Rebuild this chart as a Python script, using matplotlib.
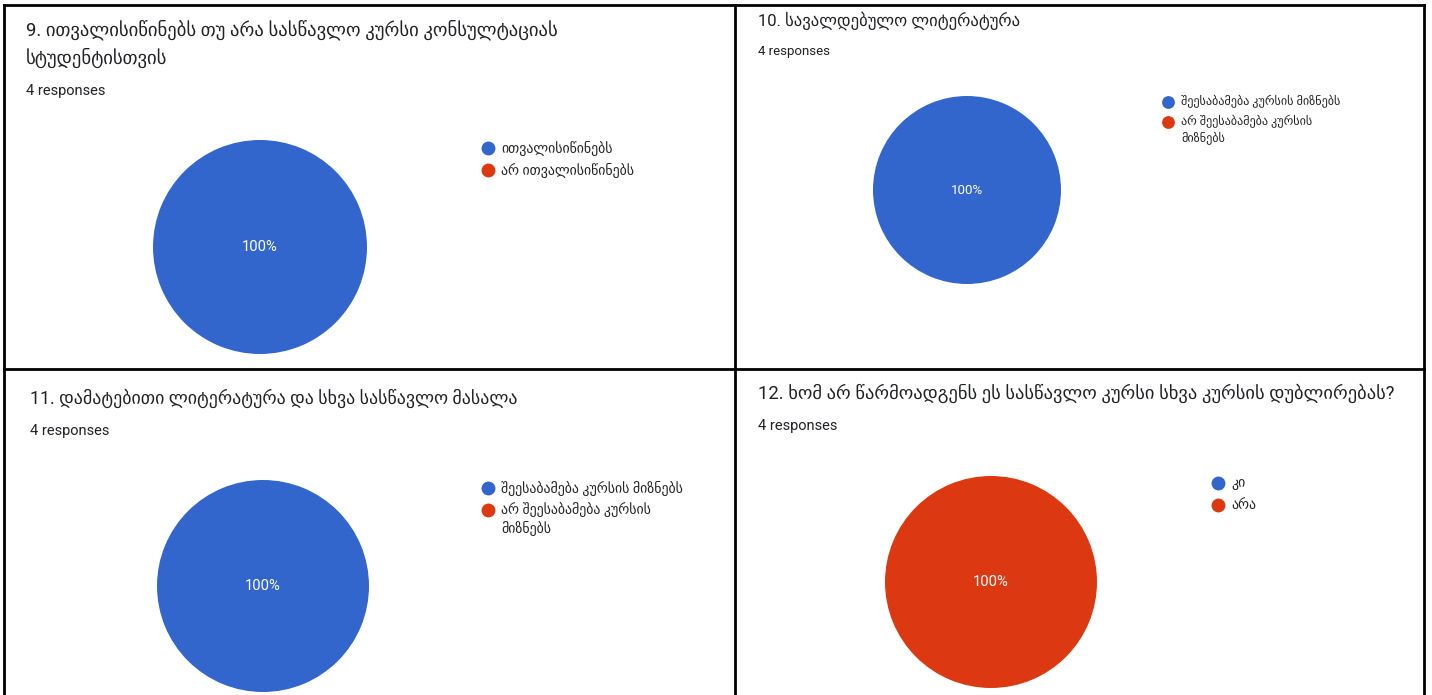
import matplotlib
matplotlib.use("Agg")
import matplotlib.pyplot as plt

W, H = 1432, 695
FAM = ['Roboto', 'DejaVu Sans']

titles = [
    "9. ითვალისიწინებს თუ არა სასწავლო კურსი კონსულტაციას\nსტუდენტისთვის",
    "10. სავალდებულო ლიტერატურა",
    "11. დამატებითი ლიტერატურა და სხვა სასწავლო მასალა",
    "12. ხომ არ წარმოადგენს ეს სასწავლო კურსი სხვა კურსის დუბლირებას?",
]
responses = ["4 responses", "4 responses", "4 responses", "4 responses"]
labels_q9 = ["ითვალისიწინებს", "არ ითვალისიწინებს"]
labels_q10 = ["შეესაბამება კურსის მიზნებს", "არ შეესაბამება კურსის\nმიზნებს"]
labels_q11 = ["შეესაბამება კურსის მიზნებს", "არ შეესაბამება კურსის\nმიზნებს"]
labels_q12 = ["კი", "არა"]
values_q9 = [4, 0]
values_q10 = [4, 0]
values_q11 = [4, 0]
values_q12 = [0, 4]
colors = ["#3366CC", "#DC3912"]

panels = [
    dict(title=titles[0], resp=responses[0], labels=labels_q9, values=values_q9,
         tx=26, ty=30, tls=28, ry=91, c=(260, 247), r=107, lx=488, ly=148,
         fs_t=13.4, fs_r=10.5, fs_l=10, fs_p=10.6, step=22, wrap=19, ms=100),
    dict(title=titles[1], resp=responses[1], labels=labels_q10, values=values_q10,
         tx=758, ty=21, tls=28, ry=51, c=(967, 190), r=94, lx=1168, ly=102,
         fs_t=12, fs_r=9.5, fs_l=8.7, fs_p=9.6, step=20, wrap=17, ms=85),
    dict(title=titles[2], resp=responses[2], labels=labels_q11, values=values_q11,
         tx=30, ty=398, tls=28, ry=431, c=(263, 586), r=106, lx=488, ly=488,
         fs_t=12.9, fs_r=10.5, fs_l=10, fs_p=10.6, step=22, wrap=19, ms=100),
    dict(title=titles[3], resp=responses[3], labels=labels_q12, values=values_q12,
         tx=758, ty=393, tls=28, ry=426, c=(991, 582), r=106, lx=1218, ly=483,
         fs_t=13.3, fs_r=10.5, fs_l=10, fs_p=10.6, step=22, wrap=19, ms=100),
]

fig = plt.figure(figsize=(W / 100, H / 100), dpi=100)
fig.patch.set_facecolor("white")

# overlay axes in pixel coordinates
ov = fig.add_axes([0, 0, 1, 1])
ov.set_xlim(0, W)
ov.set_ylim(H, 0)
ov.axis("off")
ov.set_zorder(5)
ov.patch.set_alpha(0)

# table borders
lw = 2.0
for xs, ys in [([4, 4], [5, H]), ([735, 735], [5, H]), ([1424, 1424], [5, H]),
               ([4, 1424], [5, 5]), ([4, 1424], [369, 369])]:
    ov.plot(xs, ys, color="black", lw=lw, solid_capstyle="projecting")

for p in panels:
    cx, cy = p["c"]
    r = p["r"]
    ax = fig.add_axes([(cx - r) / W, 1 - (cy + r) / H, 2 * r / W, 2 * r / H])
    ax.pie(
        p["values"], colors=colors, startangle=90, counterclock=False,
        autopct=lambda v: f"{v:.0f}%" if v > 0 else "", pctdistance=0.0,
        textprops=dict(color="white", fontsize=p["fs_p"], family=FAM),
        wedgeprops=dict(linewidth=0),
    )
    ax.set_xlim(-1, 1)
    ax.set_ylim(-1, 1)
    ax.set_aspect("equal")
    ax.axis("off")

    for i, line in enumerate(p["title"].split("\n")):
        ov.text(p["tx"], p["ty"] + i * p["tls"], line, fontsize=p["fs_t"],
                color="#202124", family=FAM, va="center", ha="left")
    ov.text(p["tx"], p["ry"], p["resp"], fontsize=p["fs_r"], color="#202124",
            family=FAM, va="center", ha="left")

    y = p["ly"]
    for lab, col in zip(p["labels"], colors):
        ov.scatter([p["lx"]], [y], s=p["ms"], color=col, linewidths=0)
        lines = lab.split("\n")
        for j, line in enumerate(lines):
            ov.text(p["lx"] + 13, y + j * p["wrap"], line, fontsize=p["fs_l"],
                    color="#222222", family=FAM, va="center", ha="left")
        y += p["step"]

fig.savefig("out.png", dpi=100, facecolor="white")
